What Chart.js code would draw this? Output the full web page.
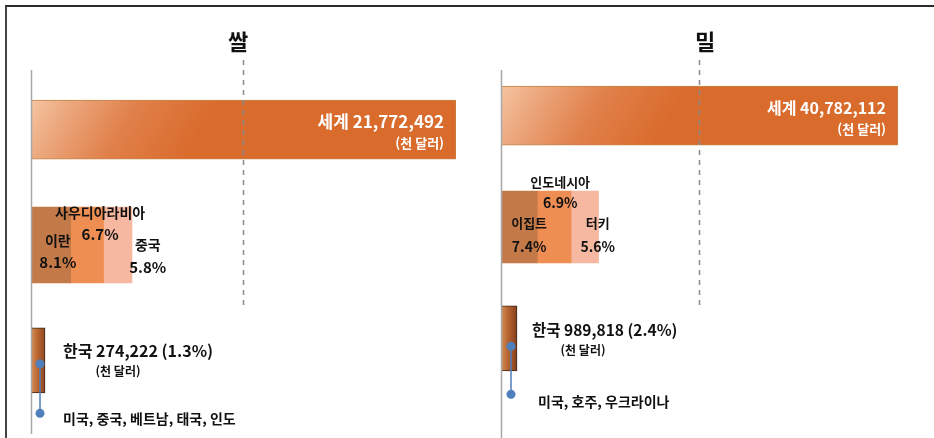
<!DOCTYPE html>
<html lang="ko">
<head>
<meta charset="utf-8">
<script src="https://cdn.jsdelivr.net/npm/chart.js@4.4.1/dist/chart.umd.min.js"></script>
<style>
  body { margin: 0; background: #fff; }
  #wrap { position: relative; width: 934px; height: 438px; overflow: hidden; }
  .frame { position: absolute; left: 5px; top: 5px; width: 960px; height: 460px;
           border-top: 2px solid #2a2a2a; border-left: 2px solid #444; }
  canvas { position: absolute; top: 0; }
</style>
</head>
<body>
<div id="wrap">
  <div class="frame"></div>
  <canvas id="rice" width="467" height="438" style="left:0"></canvas>
  <canvas id="wheat" width="467" height="438" style="left:467px"></canvas>
</div>
<script>
// 데이터 (천 달러, %)
const rows = ['세계', '주요 수입국', '한국'];

const riceTitle = '쌀';
const riceWorld = 21772492;
const riceTopNames = ['이란', '사우디아라비아', '중국'];
const riceTopShares = [8.1, 6.7, 5.8];
const riceKorea = 274222;
const riceKoreaShare = 1.3;
const riceSources = '미국, 중국, 베트남, 태국, 인도';

const wheatTitle = '밀';
const wheatWorld = 40782112;
const wheatTopNames = ['이집트', '인도네시아', '터키'];
const wheatTopShares = [7.4, 6.9, 5.6];
const wheatKorea = 989818;
const wheatKoreaShare = 2.4;
const wheatSources = '미국, 호주, 우크라이나';

const FONT = "'Noto Sans CJK KR', 'Noto Sans', sans-serif";
const shareColors = ['#c47a48', '#ef8e52', '#f6b8a0'];

function fmt(n) { return n.toLocaleString('en-US'); }

// 그림 위 라벨, 점선, 축선
const overlay = {
  id: 'overlay',
  afterDatasetsDraw(chart, args, o) {
    const ctx = chart.ctx;
    const a = chart.chartArea;
    ctx.save();

    // 왼쪽 축선
    ctx.strokeStyle = '#a8a8a8';
    ctx.lineWidth = 1.5;
    ctx.beginPath();
    ctx.moveTo(a.left + 0.5, 70);
    ctx.lineTo(a.left + 0.5, o.axisEnd);
    ctx.stroke();

    // 절반 기준 점선
    const hx = chart.scales.x.getPixelForValue(o.world / 2);
    ctx.strokeStyle = '#8a8a8a';
    ctx.setLineDash([5, 5]);
    ctx.beginPath();
    ctx.moveTo(hx, 60);
    ctx.lineTo(hx, 310);
    ctx.stroke();
    ctx.setLineDash([]);

    // 제목
    ctx.fillStyle = '#111';
    ctx.textAlign = 'center';
    ctx.textBaseline = 'middle';
    ctx.font = 'bold 22px ' + FONT;
    ctx.fillText(o.title, 238, 42);

    // 세계 막대 라벨
    const w = chart.getDatasetMeta(0).data[0];
    ctx.fillStyle = '#fff';
    ctx.textAlign = 'right';
    ctx.font = 'bold ' + o.worldFont + 'px ' + FONT;
    ctx.fillText('세계 ' + fmt(o.world), w.x - 12, w.y - 8);
    ctx.font = 'bold 13px ' + FONT;
    ctx.fillText('(천 달러)', w.x - 12, w.y + 13);

    // 주요 수입국 라벨
    ctx.fillStyle = '#111';
    ctx.textAlign = 'center';
    o.topNames.forEach((name, i) => {
      const el = chart.getDatasetMeta(1 + i).data[1];
      const cx = (el.x + el.base) / 2 + o.labelPos[i][0];
      ctx.font = 'bold ' + o.nameFont + 'px ' + FONT;
      ctx.fillText(name, cx, el.y + o.labelPos[i][1]);
      ctx.font = 'bold ' + o.pctFont + 'px ' + FONT;
      ctx.fillText(o.topShares[i].toFixed(1) + '%', cx, el.y + o.labelPos[i][2]);
    });

    // 한국 라벨
    const k = chart.getDatasetMeta(4).data[2];
    ctx.textAlign = 'left';
    ctx.font = 'bold ' + o.koreaFont + 'px ' + FONT;
    const kTxt = '한국 ' + fmt(o.korea) + ' (' + o.koreaShare.toFixed(1) + '%)';
    const kx = k.x + o.koreaGap;
    ctx.fillText(kTxt, kx, k.y + o.koreaDy);
    ctx.textAlign = 'center';
    ctx.font = 'bold 12px ' + FONT;
    ctx.fillText('(천 달러)', kx + o.unitDx, k.y + o.koreaDy + 20);
    ctx.textAlign = 'left';
    ctx.font = 'bold 14px ' + FONT;
    ctx.fillText(o.sources, kx + o.srcDx, k.y + o.srcDy);

    // 파란 연결선
    const dx = (k.x + k.base) / 2 + 2;
    ctx.strokeStyle = '#4f7fbd';
    ctx.fillStyle = '#4f7fbd';
    ctx.lineWidth = 1.5;
    ctx.beginPath();
    ctx.moveTo(dx, k.y + o.dotDy[0]);
    ctx.lineTo(dx, k.y + o.dotDy[1]);
    ctx.stroke();
    o.dotDy.forEach(d => {
      ctx.beginPath();
      ctx.arc(dx, k.y + d, 4.5, 0, Math.PI * 2);
      ctx.fill();
    });
    ctx.restore();
  }
};

function worldFill(c) {
  const chart = c.chart;
  const a = chart.chartArea;
  if (!a) return '#d96b2c';
  const y = chart.scales.y.getPixelForValue(0);
  const g = chart.ctx.createLinearGradient(a.left, y - 30, a.left + 200, y + 90);
  g.addColorStop(0, '#f5c5a2');
  g.addColorStop(0.15, '#eca87e');
  g.addColorStop(0.4, '#e0804a');
  g.addColorStop(0.7, '#d96b2c');
  g.addColorStop(1, '#d96b2c');
  return g;
}

function koreaFill(c) {
  const a = c.chart.chartArea;
  if (!a) return '#b0612f';
  const g = c.chart.ctx.createLinearGradient(a.left, 0, a.left + 15, 0);
  g.addColorStop(0, '#d88e56');
  g.addColorStop(0.5, '#b5622f');
  g.addColorStop(1, '#8a4421');
  return g;
}

function makePanel(id, o) {
  const datasets = [{
    data: [o.world, null, null],
    xAxisID: 'x',
    stack: 'all',
    backgroundColor: worldFill,
    borderColor: '#c48547',
    borderWidth: 1,
    borderSkipped: false,
    barThickness: 59
  }];
  o.topShares.forEach((v, i) => {
    datasets.push({
      data: [null, v, null],
      xAxisID: 'x2',
      stack: 'all',
      backgroundColor: shareColors[i],
      borderWidth: 0,
      barThickness: o.topThick
    });
  });
  datasets.push({
    data: [null, null, o.koreaShare],
    xAxisID: 'x2',
    stack: 'all',
    backgroundColor: koreaFill,
    borderColor: '#3d2414',
    borderWidth: 1,
    borderSkipped: false,
    minBarLength: o.koreaLen,
    barThickness: 65
  });

  new Chart(document.getElementById(id), {
    type: 'bar',
    data: { labels: rows, datasets: datasets },
    options: {
      indexAxis: 'y',
      responsive: false,
      animation: false,
      devicePixelRatio: 1,
      layout: { padding: o.padding },
      scales: {
        x: { type: 'linear', display: false, min: 0, max: o.world },
        x2: { type: 'linear', axis: 'x', display: false, min: 0, max: o.shareMax, stacked: true },
        y: { type: 'category', display: false, offset: true }
      },
      plugins: {
        legend: { display: false },
        tooltip: { enabled: false },
        overlay: o
      }
    },
    plugins: [overlay]
  });
}

makePanel('rice', {
  title: riceTitle, world: riceWorld, topNames: riceTopNames, topShares: riceTopShares,
  korea: riceKorea, koreaShare: riceKoreaShare, sources: riceSources,
  padding: { left: 31, right: 11, top: 72, bottom: 20 },
  shareMax: 86.7, topThick: 76, koreaLen: 14, axisEnd: 434,
  worldFont: 17, nameFont: 14, pctFont: 15, koreaFont: 16,
  labelPos: [[7, -4, 17], [13, -32, -11], [30, 0, 22]],
  koreaGap: 18, koreaDy: -9, unitDx: 55, srcDx: 0, srcDy: 58, dotDy: [3.5, 53]
});

makePanel('wheat', {
  title: wheatTitle, world: wheatWorld, topNames: wheatTopNames, topShares: wheatTopShares,
  korea: wheatKorea, koreaShare: wheatKoreaShare, sources: wheatSources,
  padding: { left: 34, right: 36, top: 60, bottom: 44 },
  shareMax: 81, topThick: 72, koreaLen: 16, axisEnd: 438,
  worldFont: 16, nameFont: 13, pctFont: 14, koreaFont: 15.5,
  labelPos: [[10, -4, 20], [6, -45, -24], [13, -4, 20]],
  koreaGap: 15, koreaDy: -8, unitDx: 51, srcDx: 6, srcDy: 63, dotDy: [8, 56]
});
</script>
</body>
</html>
